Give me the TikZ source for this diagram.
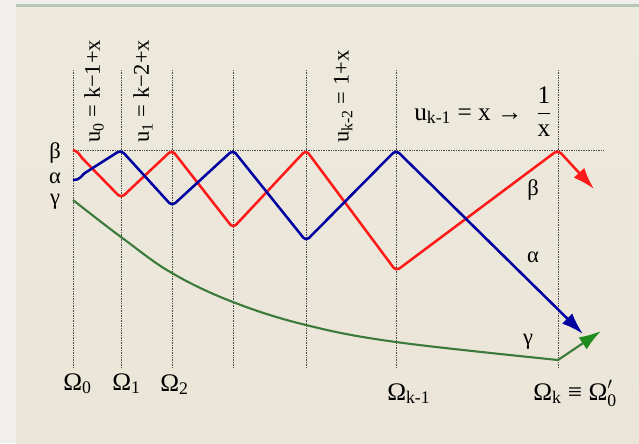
\documentclass[tikz,border=0pt]{standalone}
\usepackage{amsmath}
\usepackage{fontspec}
\setmainfont{Liberation Serif}
\usetikzlibrary{arrows.meta}
\definecolor{stripgrey}{HTML}{F0EFEC}
\definecolor{panelbeige}{HTML}{EDE9DD}
\definecolor{panelbeigelow}{HTML}{EAE5D7}
\definecolor{rimgreen}{HTML}{B7C6B6}
\definecolor{betared}{HTML}{FF1A1A}
\definecolor{alphablue}{HTML}{0000A0}
\definecolor{gammagreen}{HTML}{3B7A3B}
\definecolor{tipgreen}{HTML}{1E8C1E}
\newcommand{\idx}[2]{$\text{#1}_{\text{#2}}$}
\begin{document}
\begin{tikzpicture}[x=0.025cm,y=-0.025cm,
  every node/.style={font=\fontsize{16}{19}\selectfont,inner sep=0pt},
  omega/.style={font=\fontsize{18}{21}\selectfont,anchor=base west},
  guide/.style={gray!60!black,line width=0.5pt,dash pattern=on 0.6pt off 0.6pt},
  ray/.style={line width=1.8pt,line join=round,rounded corners=3pt},
  tip/.style={-{Latex[length=5.5mm,width=3.6mm]}}
]
% background
\useasboundingbox (0,0) rectangle (639,443);
\fill[stripgrey] (0,0) rectangle (639,443);
\shade[top color=panelbeige,bottom color=panelbeigelow] (16,7) rectangle (639,443);
\fill[rimgreen] (16,4) rectangle (639,7);

% sections
\coordinate (t0) at (73,70);  \coordinate (b0) at (73,368);
\coordinate (t1) at (121,70); \coordinate (b1) at (121,368);
\coordinate (t2) at (172,70); \coordinate (b2) at (172,368);
\coordinate (t3) at (233,70); \coordinate (b3) at (233,368);
\coordinate (t4) at (306,70); \coordinate (b4) at (306,368);
\coordinate (t5) at (396,70); \coordinate (b5) at (396,368);
\coordinate (t6) at (558,70); \coordinate (b6) at (558,368);
\draw[guide] (t0)--(b0);
\draw[guide] (t1)--(b1);
\draw[guide] (t2)--(b2);
\draw[guide] (t3)--(b3);
\draw[guide] (t4)--(b4);
\draw[guide] (t5)--(b5);
\draw[guide] (t6)--(b6);
\coordinate (hl) at (73,150);
\coordinate (hr) at (604,150);
\draw[guide] (hl)--(hr);

% rays
\draw[ray,betared,tip] (73,150) to[out=-15,in=135] (85,161) -- (121,198) -- (172,150)
  -- (233,228) -- (306,150) -- (396,271) -- (558,150) -- (594,189);
\draw[ray,alphablue,tip] (73,180) to[out=-5,in=-147] (88,171) -- (121,150) -- (172,206)
  -- (233,150) -- (306,241) -- (396,150) -- (583,334);
\draw[ray,gammagreen,line width=1.5pt] plot[smooth,tension=0.6] coordinates
  {(73,200) (121,237) (172,273) (233,302) (306,325) (396,342) (558,360)};
\draw[ray,gammagreen,line width=1.5pt,-{Latex[length=5.5mm,width=3.6mm,color=tipgreen]}]
  (558,360) -- (601,331);

% ray labels
\node (bl) at (55,153) {β};
\node (al) at (55,178) {α};
\node (gl) at (55,202) {γ};
\node (br) at (533,190) {β};
\node (ar) at (533,257) {α};
\node (gr) at (528,342) {γ};

% transformations
\node[rotate=90,anchor=west] (u0) at (94,143) {\idx{u}{0} = k−1+x};
\node[rotate=90,anchor=west] (u1) at (143,143) {\idx{u}{1} = k−2+x};
\node[rotate=90,anchor=west] (uk2) at (343,143) {\idx{u}{k-2} = 1+x};
\node[omega] (uk1) at (414,120) {\idx{u}{k-1} = x → \;$\dfrac{\text{1}}{\text{x}}$};

% sections labels
\node[omega] (o0) at (63,390) {\idx{Ω}{0}};
\node[omega] (o1) at (112,390) {\idx{Ω}{1}};
\node[omega] (o2) at (160,391) {\idx{Ω}{2}};
\node[omega] (ok1) at (387,400) {\idx{Ω}{k-1}};
\node[omega] (ok) at (533,400) {\idx{Ω}{k} ≡ $\text{Ω}'_{\text{0}}$};
\end{tikzpicture}
\end{document}
